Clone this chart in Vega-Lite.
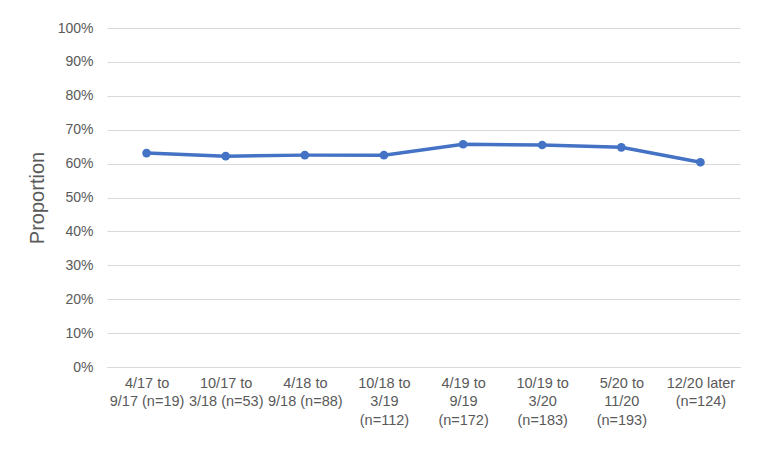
{
  "$schema": "https://vega.github.io/schema/vega-lite/v6.json",
  "width": 633,
  "height": 339,
  "autosize": {"type": "none"},
  "padding": {"left": 107, "top": 28, "right": 22, "bottom": 90},
  "background": "white",
  "config": {
    "view": {"stroke": null},
    "font": "Liberation Sans",
    "axis": {"labelColor": "#595959", "titleColor": "#595959", "gridColor": "#d9d9d9", "domainColor": "#d9d9d9", "ticks": false}
  },
  "data": {
    "values": [
      {"period": "4/17 to|9/17 (n=19)", "order": 1, "proportion": 0.631},
      {"period": "10/17 to|3/18 (n=53)", "order": 2, "proportion": 0.622},
      {"period": "4/18 to|9/18 (n=88)", "order": 3, "proportion": 0.625},
      {"period": "10/18 to|3/19|(n=112)", "order": 4, "proportion": 0.625},
      {"period": "4/19 to|9/19|(n=172)", "order": 5, "proportion": 0.657},
      {"period": "10/19 to|3/20|(n=183)", "order": 6, "proportion": 0.655},
      {"period": "5/20 to|11/20|(n=193)", "order": 7, "proportion": 0.648},
      {"period": "12/20 later|(n=124)", "order": 8, "proportion": 0.604}
    ]
  },
  "encoding": {
    "x": {
      "field": "period",
      "type": "nominal",
      "sort": {"field": "order"},
      "scale": {"paddingInner": 0, "paddingOuter": 0},
      "axis": {
        "title": null,
        "labelAngle": 0,
        "labelExpr": "split(datum.label, '|')",
        "labelFontSize": 14.5,
        "labelLineHeight": 18.5,
        "labelPadding": 9,
        "labelBaseline": "top",
        "labelOverlap": false,
        "labelLimit": 0,
        "domain": true,
        "grid": false
      }
    },
    "y": {
      "field": "proportion",
      "type": "quantitative",
      "scale": {"domain": [0, 1], "nice": false},
      "axis": {
        "title": "Proportion",
        "titleFontSize": 20,
        "titleFontWeight": "normal",
        "titlePadding": 10,
        "format": ".0%",
        "values": [0, 0.1, 0.2, 0.3, 0.4, 0.5, 0.6, 0.7, 0.8, 0.9, 1],
        "labelFontSize": 14,
        "labelPadding": 14,
        "labelOverlap": false,
        "domain": false,
        "grid": true
      }
    }
  },
  "layer": [
    {"mark": {"type": "line", "color": "#4472C4", "strokeWidth": 3.5}},
    {"mark": {"type": "point", "filled": true, "opacity": 1, "color": "#4472C4", "size": 75}}
  ]
}
